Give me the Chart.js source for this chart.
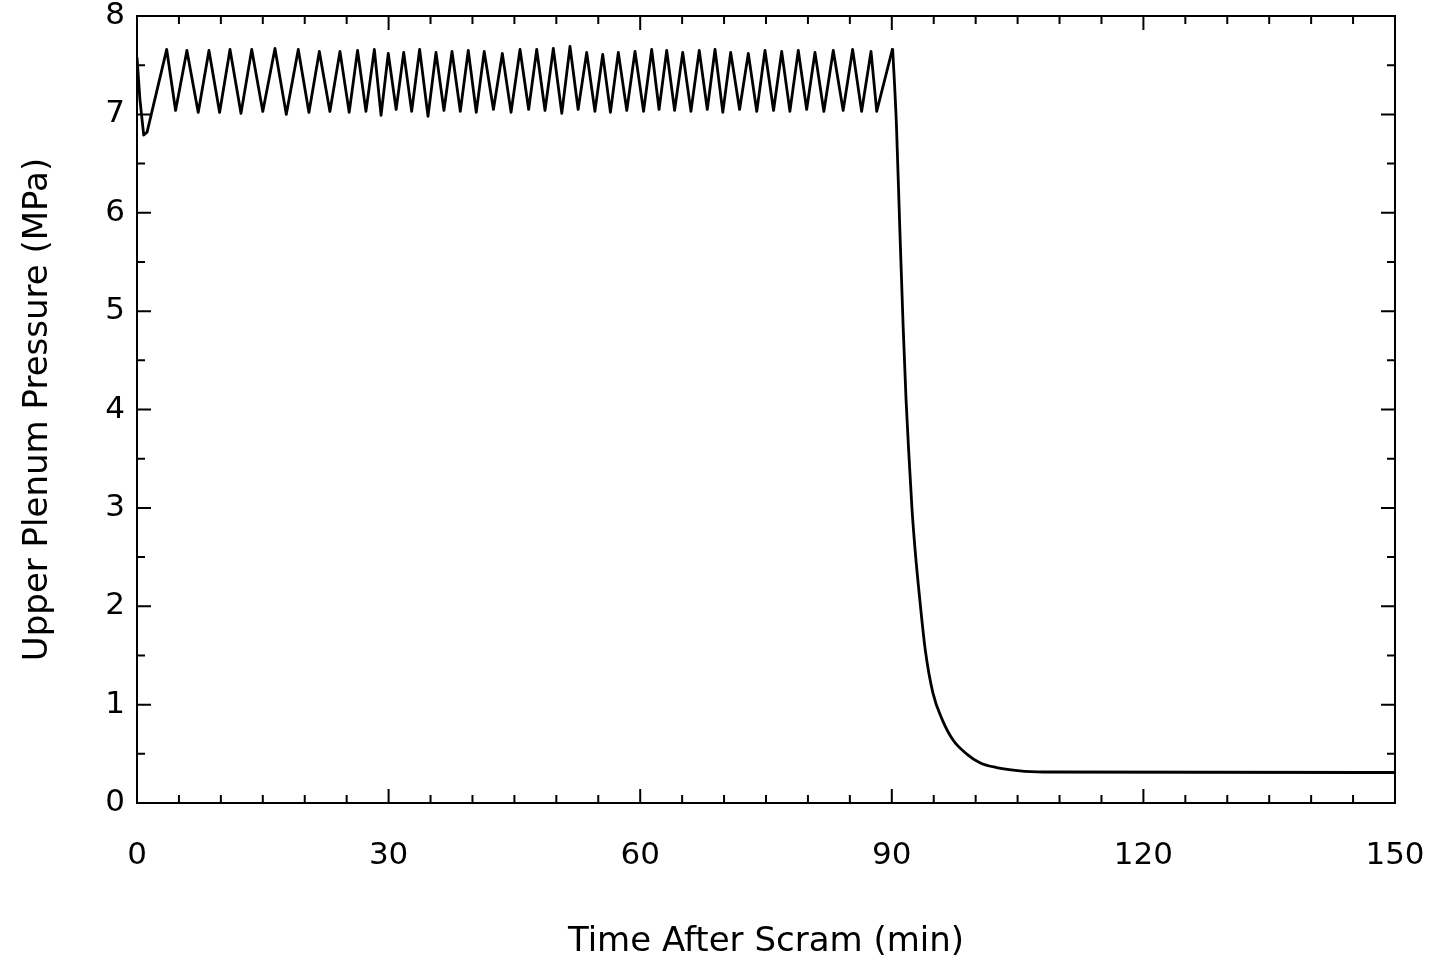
<!DOCTYPE html>
<html lang="en">
<head>
    <meta charset="UTF-8">
    <title>Upper Plenum Pressure</title>
    <style>
        body { margin: 0; background: #fff; }
    </style>
</head>
<body>

<canvas id="pressureChart" width="1434" height="967"></canvas>

<script src="https://cdn.jsdelivr.net/npm/chart.js"></script>

<script>
    // Start of the transient (dip right after scram)
    const startTimes  = [0, 0.35, 0.8, 1.2];
    const startValues = [7.58, 7.15, 6.79, 6.82];

    // Relief valve cycling: peak of each cycle (min, MPa)
    const peakTimes = [3.54, 5.95, 8.58, 11.09, 13.68, 16.45, 19.23, 21.74, 24.2, 26.3,
        28.3, 29.96, 31.8, 33.7, 35.65, 37.56, 39.5, 41.4, 43.56, 45.67,
        47.66, 49.64, 51.63, 53.62, 55.53, 57.39, 59.38, 61.37, 63.16, 65.07,
        67.04, 68.92, 70.79, 72.89, 74.88, 76.87, 78.85, 80.84, 83.02, 85.33,
        87.52, 90.1];
    const peakValues = [7.66, 7.65, 7.65, 7.66, 7.66, 7.67, 7.66, 7.64, 7.64, 7.65,
        7.66, 7.62, 7.63, 7.66, 7.63, 7.64, 7.65, 7.64, 7.62, 7.66,
        7.66, 7.67, 7.69, 7.63, 7.61, 7.63, 7.64, 7.66, 7.65, 7.63,
        7.65, 7.66, 7.63, 7.62, 7.65, 7.64, 7.65, 7.63, 7.65, 7.66,
        7.64, 7.67];

    // Bottom of each cycle, after the matching peak
    const troughTimes = [4.6, 7.3, 9.85, 12.4, 15.0, 17.8, 20.5, 23.0, 25.3, 27.3,
        29.1, 30.9, 32.75, 34.7, 36.6, 38.55, 40.45, 42.5, 44.6, 46.7,
        48.65, 50.65, 52.6, 54.6, 56.45, 58.4, 60.4, 62.25, 64.1, 66.05,
        68.0, 69.85, 71.85, 73.9, 75.9, 77.85, 79.85, 81.9, 84.2, 86.4,
        88.2];
    const troughValues = [7.04, 7.02, 7.02, 7.01, 7.03, 7.0, 7.02, 7.03, 7.02, 7.03,
        6.99, 7.05, 7.03, 6.98, 7.04, 7.03, 7.02, 7.05, 7.02, 7.05,
        7.04, 7.01, 7.05, 7.03, 7.02, 7.04, 7.03, 7.05, 7.04, 7.03,
        7.05, 7.02, 7.05, 7.03, 7.04, 7.03, 7.05, 7.03, 7.04, 7.03,
        7.03];

    // Depressurization, starting at the last peak
    const dropTimes  = [90.1, 90.55, 90.95, 91.35, 91.7, 92.0, 92.4, 92.8, 93.3, 94.0, 94.9,
        96.0, 97.3, 98.9, 100.5, 102.5, 105, 108, 150];
    const dropValues = [7.67, 6.9, 5.85, 4.85, 4.1, 3.6, 3.0, 2.55, 2.1, 1.55, 1.12,
        0.85, 0.64, 0.5, 0.41, 0.36, 0.33, 0.315, 0.31];

    const xTicks = [0, 30, 60, 90, 120, 150];
    const yTicks = [0, 1, 2, 3, 4, 5, 6, 7, 8];

    // Build the cycling part in time order
    function buildCycling() {
        let pts = [];
        startTimes.forEach((t, i) => pts.push({x: t, y: startValues[i]}));
        peakTimes.forEach((t, i) => {
            pts.push({x: t, y: peakValues[i]});
            if (i < troughTimes.length) {
                pts.push({x: troughTimes[i], y: troughValues[i]});
            }
        });
        return pts;
    }

    function buildDrop() {
        return dropTimes.map((t, i) => ({x: t, y: dropValues[i]}));
    }

    // Frame and inward tick marks on all four sides
    const frameTicks = {
        id: 'frameTicks',
        afterDatasetsDraw(chart) {
            const {ctx, chartArea: a, scales: {x, y}} = chart;
            ctx.save();
            ctx.strokeStyle = '#000';
            ctx.lineWidth = 2;
            ctx.strokeRect(a.left, a.top, a.right - a.left, a.bottom - a.top);
            ctx.beginPath();
            for (let v = 0; v <= 150; v += 5) {
                const px = x.getPixelForValue(v);
                const len = v % 30 === 0 ? 14 : 8;
                ctx.moveTo(px, a.bottom); ctx.lineTo(px, a.bottom - len);
                ctx.moveTo(px, a.top); ctx.lineTo(px, a.top + len);
            }
            for (let v = 0; v <= 8; v += 0.5) {
                const py = y.getPixelForValue(v);
                const len = v % 1 === 0 ? 14 : 8;
                ctx.moveTo(a.left, py); ctx.lineTo(a.left + len, py);
                ctx.moveTo(a.right, py); ctx.lineTo(a.right - len, py);
            }
            ctx.stroke();
            ctx.restore();
        }
    };

    const font = 'DejaVu Sans';

    const pressureChart = new Chart(document.getElementById('pressureChart'), {
        type: 'line',
        data: {
            datasets: [{
                label: 'Cycling',
                data: buildCycling(),
                borderColor: '#000',
                borderWidth: 2.8,
                pointRadius: 0,
                tension: 0,
                borderJoinStyle: 'round',
                fill: false,
            }, {
                label: 'Depressurization',
                data: buildDrop(),
                borderColor: '#000',
                borderWidth: 2.8,
                pointRadius: 0,
                cubicInterpolationMode: 'monotone',
                fill: false,
            }]
        },
        options: {
            responsive: false,
            animation: false,
            layout: { padding: { top: 16, right: 39, left: 0, bottom: 0 } },
            plugins: { legend: { display: false }, tooltip: { enabled: false } },
            scales: {
                x: {
                    type: 'linear',
                    min: 0, max: 150,
                    afterFit: s => { s.height = 164; s.paddingLeft = 0; s.paddingRight = 0; },
                    afterBuildTicks: s => { s.ticks = xTicks.map(v => ({value: v})); },
                    grid: { display: false, drawTicks: false },
                    border: { display: false },
                    ticks: { color: '#000', font: { family: font, size: 31 }, padding: 34, maxRotation: 0 },
                    title: {
                        display: true, text: 'Time After Scram (min)', color: '#000',
                        font: { family: font, size: 34 }, padding: { top: 0, bottom: 4 }
                    }
                },
                y: {
                    min: 0, max: 8,
                    afterFit: s => { s.width = 137; s.paddingTop = 0; s.paddingBottom = 0; },
                    afterBuildTicks: s => { s.ticks = yTicks.map(v => ({value: v})); },
                    grid: { display: false, drawTicks: false },
                    border: { display: false },
                    ticks: { color: '#000', font: { family: font, size: 31 }, padding: 12 },
                    title: {
                        display: true, text: 'Upper Plenum Pressure (MPa)', color: '#000',
                        font: { family: font, size: 34 }, padding: { top: 18, bottom: 0 }
                    }
                }
            }
        },
        plugins: [frameTicks]
    });
</script>

</body>
</html>
